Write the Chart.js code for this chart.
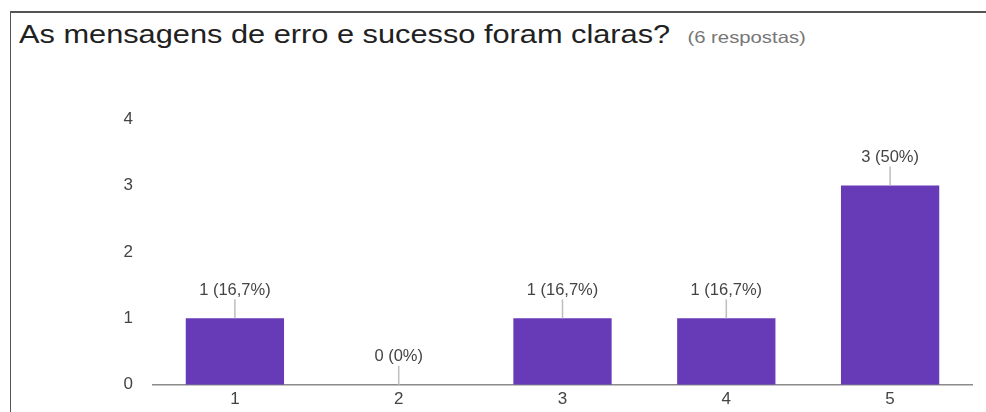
<!DOCTYPE html>
<html>
<head>
<meta charset="utf-8">
<script src="https://cdn.jsdelivr.net/npm/chart.js@4.4.1/dist/chart.umd.min.js"></script>
<style>
  html, body { margin: 0; padding: 0; background: #fff; }
  #wrap { position: relative; width: 986px; height: 412px; overflow: hidden; }
  #frame { position: absolute; left: 10px; top: 11px; width: 990px; height: 420px;
           border-left: 1.5px solid #555; border-top: 2px solid #555; }
  #title { position: absolute; left: 19px; top: 20px; white-space: nowrap;
           transform: scaleX(1.23); transform-origin: 0 0;
           font-family: "Liberation Sans", Arial, sans-serif; color: #212121; }
  #title .q { font-size: 25px; }
  #title .n { font-size: 16.5px; color: #777; margin-left: 14px; }
  #chartBox { position: absolute; left: 0; top: 0; width: 986px; height: 415px; }
</style>
</head>
<body>
<div id="wrap">
  <div id="frame"></div>
  <div id="title"><span class="q">As mensagens de erro e sucesso foram claras?</span><span class="n">(6 respostas)</span></div>
  <div id="chartBox"><canvas id="grafico"></canvas></div>
</div>
<script>
// dados do gráfico
const categorias = ['1', '2', '3', '4', '5'];
const respostas = [1, 0, 1, 1, 3];
const yTicks = [0, 1, 2, 3, 4];

const total = respostas.reduce((a, b) => a + b, 0);
const fonte = '"Liberation Sans", Arial, sans-serif';

// rótulos "n (x%)" com linha guia acima de cada barra
const rotulosBarras = {
    id: 'rotulosBarras',
    afterDatasetsDraw(chart) {
        const ctx = chart.ctx;
        const meta = chart.getDatasetMeta(0);
        ctx.save();
        meta.data.forEach((bar, i) => {
            const v = respostas[i];
            let pct = (v / total * 100);
            pct = Number.isInteger(pct) ? String(pct) : pct.toFixed(1).replace('.', ',');
            const txt = v + ' (' + pct + '%)';
            ctx.strokeStyle = '#bdbdbd';
            ctx.lineWidth = 1.5;
            ctx.beginPath();
            ctx.moveTo(bar.x, bar.y);
            ctx.lineTo(bar.x, bar.y - 19);
            ctx.stroke();
            ctx.fillStyle = '#444';
            ctx.font = '16.5px ' + fonte;
            ctx.textAlign = 'center';
            ctx.textBaseline = 'middle';
            ctx.fillText(txt, bar.x, bar.y - 28);
        });
        ctx.restore();
    }
};

new Chart(document.getElementById('grafico').getContext('2d'), {
    type: 'bar',
    data: {
        labels: categorias,
        datasets: [{
            data: respostas,
            backgroundColor: '#673ab7',
            borderWidth: 0,
            barPercentage: 0.6,
            categoryPercentage: 1.0
        }]
    },
    options: {
        responsive: true, maintainAspectRatio: false,
        animation: false,
        layout: { padding: { top: 119, right: 14, left: 0, bottom: 0 } },
        scales: {
            x: {
                grid: { display: false, drawTicks: false },
                border: { display: true, color: '#8a8a8a', width: 1.5 },
                ticks: { color: '#444', padding: 4, font: { family: fonte, size: 17 } },
                afterFit: s => { s.height = 25; }
            },
            y: {
                min: 0, max: 4,
                afterBuildTicks: s => { s.ticks = yTicks.map(v => ({ value: v })); },
                grid: { display: false, drawTicks: false },
                border: { display: false },
                ticks: { color: '#444', padding: 20, font: { family: fonte, size: 17 } },
                afterFit: s => { s.width = 153; }
            }
        },
        plugins: { legend: { display: false }, tooltip: { enabled: false } }
    },
    plugins: [rotulosBarras]
});
</script>
</body>
</html>
